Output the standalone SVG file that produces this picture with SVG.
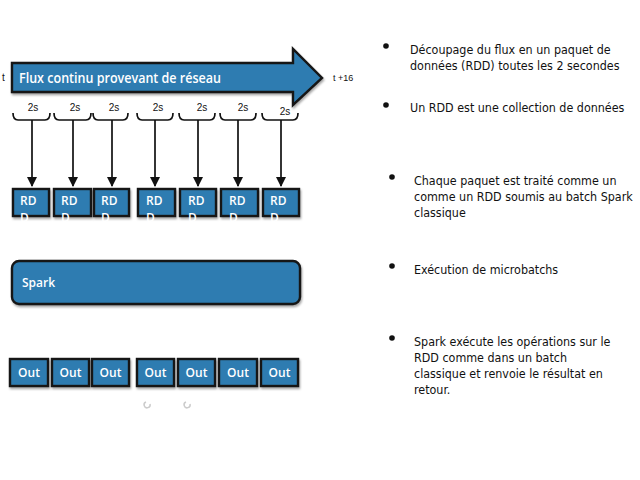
<svg xmlns="http://www.w3.org/2000/svg" width="640" height="480" viewBox="0 0 640 480">
<defs>
<filter id="sh" x="-10%" y="-10%" width="130%" height="140%">
<feDropShadow dx="1" dy="2" stdDeviation="1.2" flood-color="#000" flood-opacity="0.35"/>
</filter>
<marker id="ah" markerWidth="10" markerHeight="10" refX="9" refY="5" orient="auto" markerUnits="userSpaceOnUse">
<path d="M0,0 L10,5 L0,10 z" fill="#111"/>
</marker>
<style>
.box{fill:#2f7cb1;stroke:#161616;stroke-width:2.4;filter:url(#sh)}
.lbl{font-family:"Open Sans","Liberation Sans",Arial,sans-serif;fill:#fff;font-size:12px;font-weight:600}
.small{font-family:"Liberation Sans",Arial,sans-serif;fill:#111;font-size:10px}
.txt{font-family:"DejaVu Sans Condensed","Liberation Sans",sans-serif;fill:#111;font-size:12.4px}
.brace{fill:none;stroke:#111;stroke-width:1.7}
.conn{stroke:#111;stroke-width:1.7;marker-end:url(#ah)}
</style>
</defs>
<rect width="640" height="480" fill="#fff"/>

<g id="flux">
<path class="box" d="M12,63 H293 V49 L322,78 L293,105 V92 H12 Z"/>
<text class="lbl" x="19" y="83" style="font-size:14.5px" textLength="202" lengthAdjust="spacingAndGlyphs">Flux continu provevant de réseau</text>
</g>
<text class="small" x="2" y="81">t</text>
<text class="small" x="333" y="81" style="font-size:9px">t +16</text>

<g id="intervals">
<text class="small" x="33" y="111" text-anchor="middle">2s</text>
<text class="small" x="75" y="111" text-anchor="middle">2s</text>
<text class="small" x="114" y="111" text-anchor="middle">2s</text>
<text class="small" x="158" y="111" text-anchor="middle">2s</text>
<text class="small" x="202" y="111" text-anchor="middle">2s</text>
<text class="small" x="243" y="111" text-anchor="middle">2s</text>
<text class="small" x="285" y="115" text-anchor="middle">2s</text>
<path class="brace" d="M13,113 Q13,120 18,120 H45 Q50,120 50,113"/>
<path class="brace" d="M54,113 Q54,120 59,120 H86 Q91,120 91,113"/>
<path class="brace" d="M93,113 Q93,120 98,120 H123 Q128,120 128,113"/>
<path class="brace" d="M137,113 Q137,120 142,120 H168 Q173,120 173,113"/>
<path class="brace" d="M179,113 Q179,120 184,120 H210 Q215,120 215,113"/>
<path class="brace" d="M220,113 Q220,120 225,120 H251 Q256,120 256,113"/>
<path class="brace" d="M262,113 Q262,120 267,120 H293 Q298,120 298,113"/>
</g>

<g id="connectors">
<line class="conn" x1="32" y1="120" x2="32" y2="186"/>
<line class="conn" x1="73" y1="120" x2="73" y2="186"/>
<line class="conn" x1="112" y1="120" x2="112" y2="186"/>
<line class="conn" x1="155" y1="120" x2="155" y2="186"/>
<line class="conn" x1="198" y1="120" x2="198" y2="186"/>
<line class="conn" x1="238" y1="120" x2="238" y2="186"/>
<line class="conn" x1="281" y1="120" x2="281" y2="186"/>
</g>

<g id="rdd1"><rect class="box" x="13" y="189" width="36" height="27"/><text class="lbl" x="20" y="205">RD</text><text class="lbl" x="20" y="222">D</text></g>
<g id="rdd2"><rect class="box" x="54" y="189" width="37" height="27"/><text class="lbl" x="61" y="205">RD</text><text class="lbl" x="61" y="222">D</text></g>
<g id="rdd3"><rect class="box" x="94" y="189" width="35" height="27"/><text class="lbl" x="101" y="205">RD</text><text class="lbl" x="101" y="222">D</text></g>
<g id="rdd4"><rect class="box" x="138" y="189" width="37" height="27"/><text class="lbl" x="146" y="205">RD</text><text class="lbl" x="146" y="222">D</text></g>
<g id="rdd5"><rect class="box" x="180" y="189" width="36" height="27"/><text class="lbl" x="188" y="205">RD</text><text class="lbl" x="188" y="222">D</text></g>
<g id="rdd6"><rect class="box" x="221" y="189" width="37" height="27"/><text class="lbl" x="229" y="205">RD</text><text class="lbl" x="229" y="222">D</text></g>
<g id="rdd7"><rect class="box" x="263" y="189" width="36" height="27"/><text class="lbl" x="270" y="205">RD</text><text class="lbl" x="270" y="222">D</text></g>

<g id="spark"><rect class="box" x="12" y="261" width="288" height="43" rx="7"/><text class="lbl" x="22" y="287">Spark</text></g>

<g id="out1"><rect class="box" x="10" y="359" width="38" height="27"/><text class="lbl" x="29" y="377" text-anchor="middle">Out</text></g>
<g id="out2"><rect class="box" x="52" y="359" width="37" height="27"/><text class="lbl" x="70.5" y="377" text-anchor="middle">Out</text></g>
<g id="out3"><rect class="box" x="92" y="359" width="37" height="27"/><text class="lbl" x="110.5" y="377" text-anchor="middle">Out</text></g>
<g id="out4"><rect class="box" x="137" y="359" width="37" height="27"/><text class="lbl" x="155.5" y="377" text-anchor="middle">Out</text></g>
<g id="out5"><rect class="box" x="178" y="359" width="37" height="27"/><text class="lbl" x="196.5" y="377" text-anchor="middle">Out</text></g>
<g id="out6"><rect class="box" x="219" y="359" width="38" height="27"/><text class="lbl" x="238" y="377" text-anchor="middle">Out</text></g>
<g id="out7"><rect class="box" x="261" y="359" width="37" height="27"/><text class="lbl" x="279.5" y="377" text-anchor="middle">Out</text></g>

<g fill="none" stroke="#ccc" stroke-width="1.5">
<path d="M146,402 A3,3 0 1 0 150,404"/>
<path d="M186,402 A3,3 0 1 0 190,404"/>
</g>

<g id="notes">
<circle cx="386" cy="46" r="2.8" fill="#111"/>
<text class="txt" x="410" y="54">Découpage du flux en un paquet de</text>
<text class="txt" x="410" y="70">données (RDD) toutes les 2 secondes</text>
<circle cx="386" cy="105" r="2.8" fill="#111"/>
<text class="txt" x="410" y="112">Un RDD est une collection de données</text>
<circle cx="392" cy="177" r="2.8" fill="#111"/>
<text class="txt" x="414" y="185">Chaque paquet est traité comme un</text>
<text class="txt" x="414" y="201">comme un RDD soumis au batch Spark</text>
<text class="txt" x="414" y="217">classique</text>
<circle cx="392" cy="266" r="2.8" fill="#111"/>
<text class="txt" x="414" y="274">Exécution de microbatchs</text>
<circle cx="392" cy="338" r="2.8" fill="#111"/>
<text class="txt" x="414" y="346">Spark exécute les opérations sur le</text>
<text class="txt" x="414" y="362">RDD comme dans un batch</text>
<text class="txt" x="414" y="378">classique et renvoie le résultat en</text>
<text class="txt" x="414" y="394">retour.</text>
</g>
</svg>
